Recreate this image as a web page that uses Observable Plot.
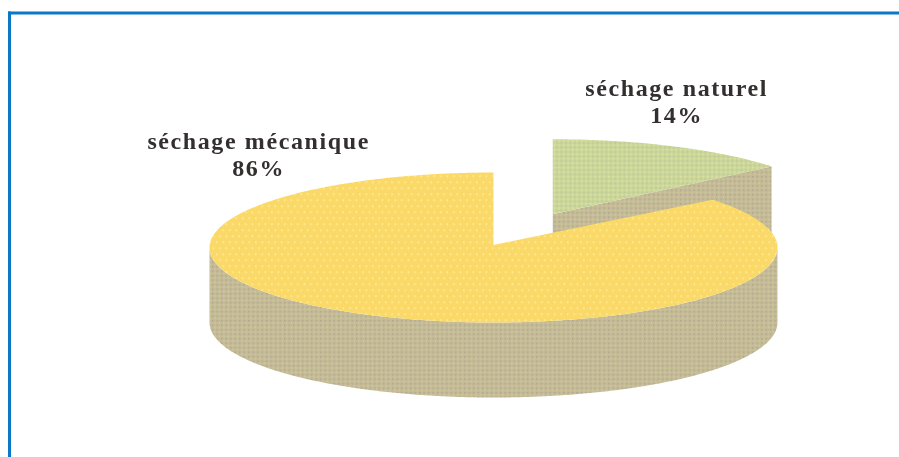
<!DOCTYPE html>
<html>
<head>
<meta charset="utf-8">
<script src="https://cdn.jsdelivr.net/npm/d3@7"></script>
<script src="https://cdn.jsdelivr.net/npm/@observablehq/plot@0.6"></script>
<style>
html,body{margin:0;padding:0;background:#fff;}
svg{display:block;}
svg text{filter:blur(0.5px);letter-spacing:1.6px;}
</style>
</head>
<body>
<div id="chart"></div>
<script>
const categories = ["séchage naturel", "séchage mécanique"];
const shares = [14, 86];
const explode = [0.49, 0];
const apexLift = [0, 0.035];
const labelX = [0.645, -0.827];
const labelY = [1.957, 1.253];
const topColors = ["#cbd69a", "#fbd968"];
const sideColor = "#c4bb97";
const depth = 1;

// Pie layout: clockwise from 12 o'clock, on a unit circle squashed by the axis scales.
const slices = [];
let cumulative = 0;
categories.forEach((name, i) => {
  const start = cumulative / 100 * 2 * Math.PI;
  cumulative += shares[i];
  const end = cumulative / 100 * 2 * Math.PI;
  const mid = (start + end) / 2;
  slices.push({name, i, start, end,
    ox: explode[i] * Math.sin(mid), oy: explode[i] * Math.cos(mid)});
});
const arcPoints = (s, from, to) => {
  const n = Math.max(2, Math.ceil((to - from) / 0.01));
  return d3.range(n + 1).map(k => {
    const t = from + (to - from) * k / n;
    return {x: s.ox + Math.sin(t), y: s.oy + Math.cos(t)};
  });
};
const topPoly = s => [{x: s.ox, y: s.oy + apexLift[s.i]}, ...arcPoints(s, s.start, s.end)];
const sidePoly = (s, from, to) => {
  const a = arcPoints(s, from, to);
  return [...a, ...a.slice().reverse().map(p => ({x: p.x, y: p.y - depth}))];
};
const tag = (pts, key) => pts.map(p => ({...p, key}));

const [natural, mecha] = slices;
// Cut face of the detached slice, seen through the gap
const naturalCut = [
  {x: natural.ox, y: natural.oy},
  {x: natural.ox + Math.sin(natural.end), y: natural.oy + Math.cos(natural.end)},
  {x: natural.ox + Math.sin(natural.end), y: natural.oy + Math.cos(natural.end) - depth},
  {x: natural.ox, y: natural.oy - depth}
];
const layers = [
  {key: "natural-cut", fill: "url(#side)", pts: naturalCut},
  {key: "natural-top", fill: "url(#green)", pts: topPoly(natural)},
  {key: "mecha-side", fill: "url(#side)", pts: sidePoly(mecha, Math.PI / 2, 3 * Math.PI / 2)},
  {key: "mecha-top", fill: "url(#yellow)", pts: topPoly(mecha)}
];

const defs = () => {
  const s = d3.create("svg:defs");
  const pat = (id, w, h, base, dots) => {
    const p = s.append("pattern").attr("id", id).attr("patternUnits", "userSpaceOnUse")
      .attr("width", w).attr("height", h);
    p.append("rect").attr("width", w).attr("height", h).attr("fill", base);
    dots.forEach(([x, y, c, o]) => p.append("rect").attr("x", x).attr("y", y)
      .attr("width", 1.4).attr("height", 1.4).attr("fill", c).attr("opacity", o));
  };
  pat("yellow", 6.5, 12, topColors[1], [[1, 1, "#fff6b0", 1], [4.25, 7, "#fff6b0", 1]]);
  pat("green", 4.5, 4.5, topColors[0], [[0, 0, "#e4e89c", 0.9], [2.25, 2.25, "#b5c498", 0.9]]);
  pat("side", 4.5, 4.5, sideColor, [[0, 0, "#ad9f8e", 0.8], [2.25, 2.25, "#d6d09c", 0.8]]);
  return s.node();
};

const chart = Plot.plot({
  width: 899, height: 457,
  marginTop: 12.5, marginLeft: 9, marginRight: 0, marginBottom: 0,
  x: {domain: [-1.7042, 1.4296], axis: null},
  y: {domain: [-2.8, 3.1267], axis: null},
  style: {background: "#fff", overflow: "hidden"},
  marks: [
    defs,
    ...layers.map(l => Plot.line(tag(l.pts, l.key), {
      x: "x", y: "y", fill: l.fill, stroke: "none", curve: "linear-closed"
    })),
    Plot.text(categories.map((c, i) => ({text: `${c}\n${shares[i]}%`, x: labelX[i], y: labelY[i]})), {
      x: "x", y: "y", text: "text", fontFamily: "Liberation Serif", fontSize: 24, fontWeight: 700,
      lineHeight: 1.125, fill: "#332f2f"
    }),
    Plot.frame({anchor: "top", stroke: "#0a78c6", strokeWidth: 3}),
    Plot.frame({anchor: "left", stroke: "#0a78c6", strokeWidth: 3})
  ]
});
document.getElementById("chart").append(chart);
</script>
</body>
</html>
